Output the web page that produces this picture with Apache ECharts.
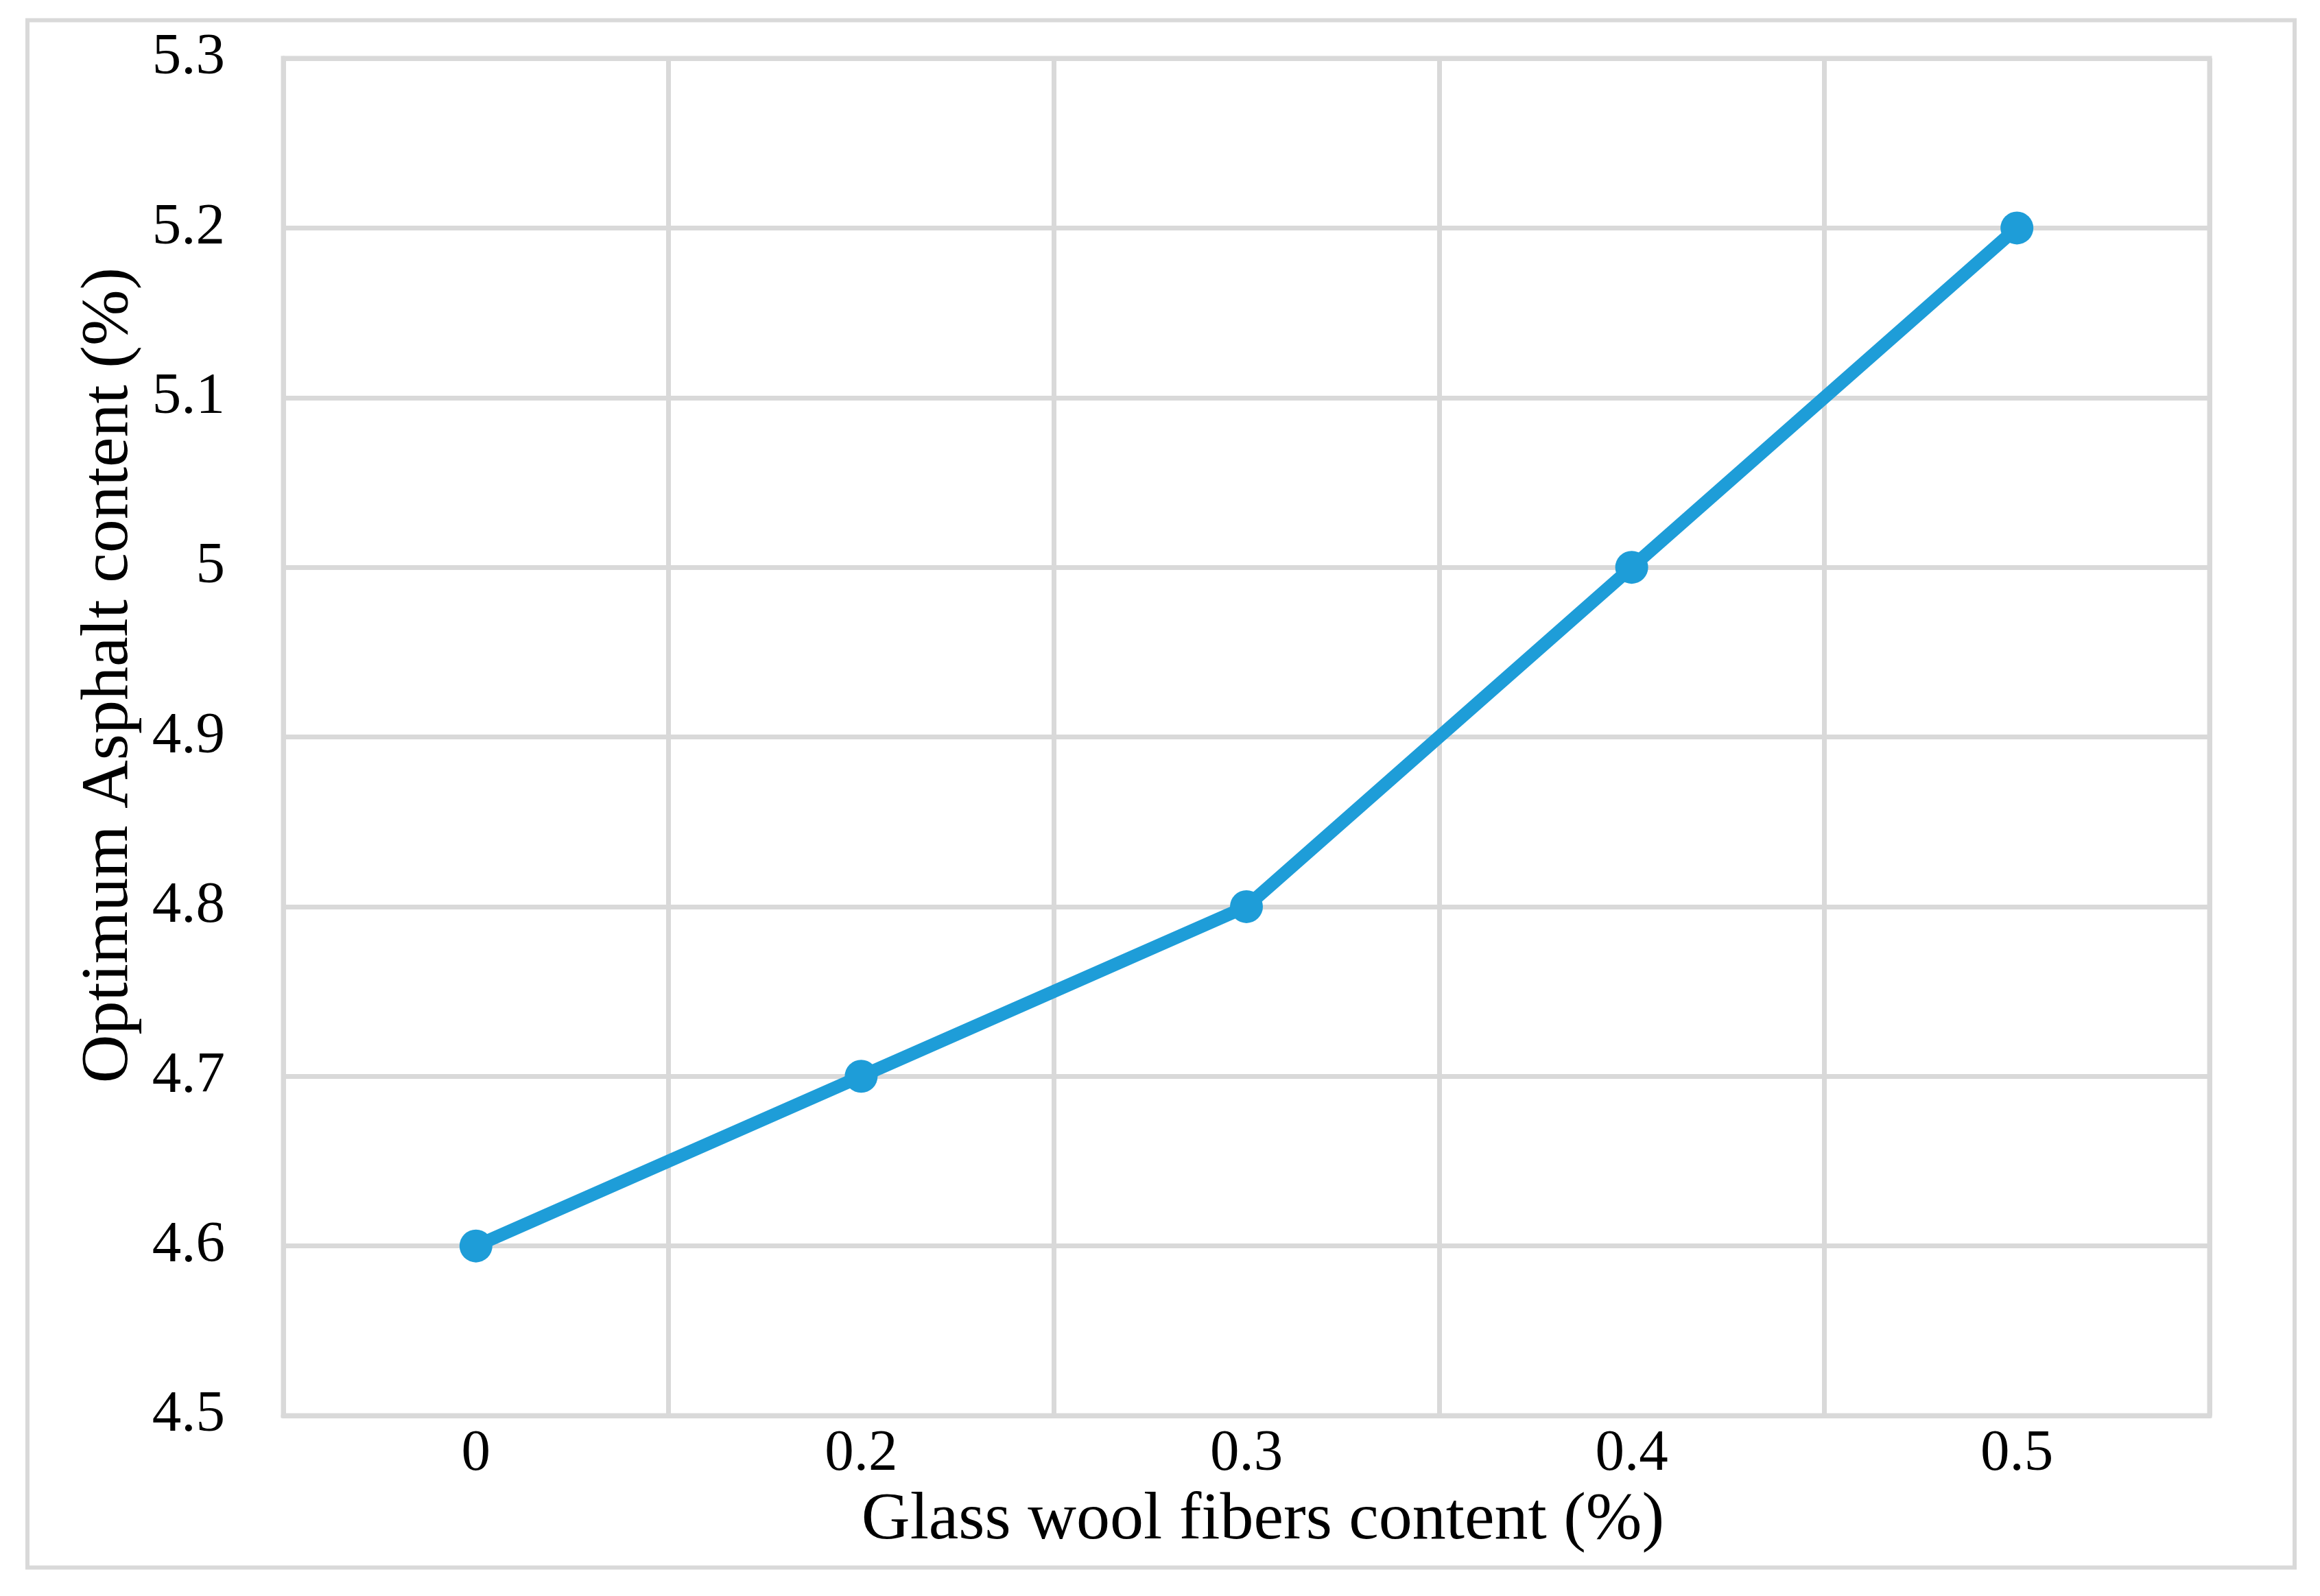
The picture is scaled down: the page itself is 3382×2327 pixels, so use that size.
<!DOCTYPE html>
<html>
<head>
<meta charset="utf-8">
<style>
html,body{margin:0;padding:0;background:#fff;}
#chart{width:3382px;height:2327px;}
</style>
<script src="https://cdn.jsdelivr.net/npm/echarts@6/dist/echarts.min.js"></script>
</head>
<body>
<div id="chart"></div>
<script>
const categories = ['0', '0.2', '0.3', '0.4', '0.5'];
const asphaltContent = [4.6, 4.7, 4.8, 5.0, 5.2];
const xAxisTitle = 'Glass wool fibers content (%)';
const yAxisTitle = 'Optimum Asphalt content (%)';

const FONT = '"Palatino Linotype", "Book Antiqua", Palatino, "Liberation Serif", serif';
const GRID = '#d9d9d9';

const chart = echarts.init(document.getElementById('chart'), null, {renderer: 'canvas'});
chart.setOption({
  backgroundColor: '#ffffff',
  animation: false,
  graphic: [{
    type: 'rect',
    shape: {x: 40, y: 29.5, width: 3305, height: 2256},
    style: {fill: 'none', stroke: GRID, lineWidth: 6},
    silent: true
  }],
  grid: {
    left: 413, right: 161, top: 85, bottom: 263,
    show: true, borderColor: GRID, borderWidth: 7, backgroundColor: 'transparent'
  },
  xAxis: {
    type: 'category',
    data: categories,
    boundaryGap: true,
    name: xAxisTitle,
    nameLocation: 'middle',
    nameGap: 95,
    nameTextStyle: {fontFamily: FONT, fontSize: 98, color: '#000', padding: [0, 0, 0, 48]},
    axisLine: {show: true, lineStyle: {color: GRID, width: 7}},
    axisTick: {show: false},
    axisLabel: {fontFamily: FONT, fontSize: 85, color: '#000', margin: 14},
    splitLine: {show: true, lineStyle: {color: GRID, width: 7}}
  },
  yAxis: {
    type: 'value',
    min: 4.5, max: 5.3, interval: 0.1,
    name: yAxisTitle,
    nameLocation: 'middle',
    nameGap: 205,
    nameRotate: 90,
    nameTextStyle: {fontFamily: FONT, fontSize: 98, color: '#000', padding: [0, 0, 0, 180]},
    axisLine: {show: true, lineStyle: {color: GRID, width: 7}},
    axisTick: {show: false},
    axisLabel: {
      fontFamily: FONT, fontSize: 85, color: '#000', margin: 85,
      formatter: function (v) { return String(Math.round(v * 10) / 10); }
    },
    splitLine: {show: true, lineStyle: {color: GRID, width: 7}}
  },
  series: [{
    type: 'line',
    data: asphaltContent,
    symbol: 'circle',
    symbolSize: 48,
    lineStyle: {color: '#1E9DD8', width: 19},
    itemStyle: {color: '#1E9DD8'},
    z: 5
  }]
});
</script>
</body>
</html>
